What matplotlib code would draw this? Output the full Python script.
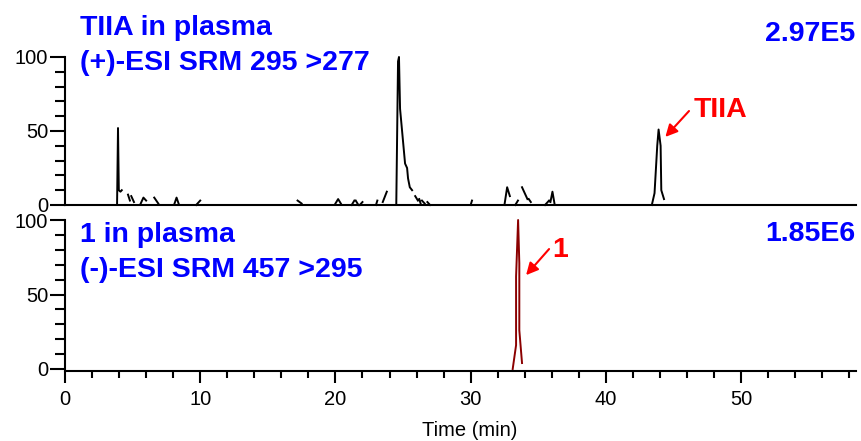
import numpy as np
import matplotlib
matplotlib.use("Agg")
import matplotlib.pyplot as plt
from matplotlib.ticker import MultipleLocator

plt.rcParams['font.family'] = ['Liberation Sans', 'DejaVu Sans']

nan = np.nan
# TIIA trace, SRM 295 > 277 (time in min, relative intensity in %), nan = gap
top_t = [3.85, 3.92, 3.98, 4.1, 4.2, nan,
         4.66, 4.8, nan, 4.9, 5.1, nan, 5.6, 5.8, 6.0, nan, 6.6, 6.9, nan,
         8.1, 8.25, 8.4, nan, 9.7, 10.0, nan, 17.2, 17.5, nan,
         20.0, 20.2, 20.4, nan, 21.2, 21.4, nan, 21.5, 21.7, nan, 21.8, 22.0, nan,
         23.0, 23.1, nan, 23.5, 23.8, nan,
         24.5, 24.63, 24.7, 24.78, 25.15, 25.3, 25.37, 25.5, 25.67, nan,
         25.9, 26.1, nan, 26.2, 26.3, nan, 26.4, 26.6, nan, 26.8, 27.0, nan,
         30.0, 30.1, nan, 32.5, 32.7, 32.9, nan, 33.3, 33.5, nan,
         33.8, 33.9, 34.2, nan, 34.3, 34.45, nan, 35.5, 35.8, nan, 35.9, 36.05, 36.2, nan,
         43.4, 43.6, 43.8, 43.9, 44.05, 44.1, 44.3]
top_y = [0, 52, 10, 9, 10, nan,
         7, 3, nan, 6, 2, nan, 1, 5, 3, nan, 5, 1, nan,
         1, 5, 1, nan, 0, 3, nan, 3, 1, nan,
         1, 4, 1, nan, 0, 3, nan, 3, 0, nan, 0, 2, nan,
         0, 3, nan, 2, 9, nan,
         0, 97, 100, 65, 28, 25, 18, 12, 10, nan,
         6, 3, nan, 4, 1, nan, 3, 1, nan, 2, 0, nan,
         0, 3, nan, 0, 12, 6, nan, 0, 3, nan,
         12, 10, 4, nan, 4, 2, nan, 0, 3, nan, 2, 9, 1, nan,
         0, 8, 40, 51, 40, 10, 4]

# compound 1 trace, SRM 457 > 295
bot_t = [33.11, 33.36, 33.36, 33.51, 33.6, 33.6, 33.8]
bot_y = [0, 16, 62, 100, 71, 26, 4]

W, H = 861, 441
fig = plt.figure(figsize=(W / 100, H / 100), dpi=100)

def px(x, y):
    return x / W, 1 - y / H

ax1 = fig.add_axes([65 / W, 1 - 205 / H, 791 / W, 148 / H])
ax2 = fig.add_axes([65 / W, 1 - 369 / H, 791 / W, 149 / H])

ax1.plot(top_t, top_y, color='black', lw=1.4, clip_on=False)
ax2.plot(bot_t, bot_y, color='#8b0000', lw=1.4, clip_on=False)

for ax in (ax1, ax2):
    ax.set_xlim(0, 58.5)
    ax.set_ylim(0, 100)
    ax.spines['top'].set_visible(False)
    ax.spines['right'].set_visible(False)
    ax.spines['left'].set_linewidth(1.5)
    ax.spines['bottom'].set_linewidth(1.5)
    ax.yaxis.set_major_locator(MultipleLocator(50))
    ax.yaxis.set_minor_locator(MultipleLocator(10))
    ax.tick_params(axis='y', which='major', length=11, width=1.5, labelsize=14.5, pad=1)
    ax.tick_params(axis='y', which='minor', length=7, width=1.5)
    ax.set_facecolor('none')

ax1.tick_params(axis='x', which='both', bottom=False, labelbottom=False)
ax2.xaxis.set_major_locator(MultipleLocator(10))
ax2.xaxis.set_minor_locator(MultipleLocator(2))
ax2.tick_params(axis='x', which='major', length=8.5, width=1.5, labelsize=14.5, pad=5)
ax2.tick_params(axis='x', which='minor', length=5, width=1.5)
ax2.spines['bottom'].set_position(('outward', 1.5))

blue = '#0000ff'
red = '#ff0000'
fs = 20.5
fig.text(*px(80, 35), 'TIIA in plasma', color=blue, fontsize=fs, fontweight='bold', va='baseline')
fig.text(*px(80, 70), '(+)-ESI SRM 295 >277', color=blue, fontsize=fs, fontweight='bold', va='baseline')
fig.text(*px(855, 41), '2.97E5', color=blue, fontsize=fs, fontweight='bold', va='baseline', ha='right')
fig.text(*px(80, 242), '1 in plasma', color=blue, fontsize=fs, fontweight='bold', va='baseline')
fig.text(*px(80, 277), '(-)-ESI SRM 457 >295', color=blue, fontsize=fs, fontweight='bold', va='baseline')
fig.text(*px(855, 241), '1.85E6', color=blue, fontsize=fs, fontweight='bold', va='baseline', ha='right')

arrow = dict(arrowstyle='-|>', color=red, lw=1.5, shrinkA=0, shrinkB=0, mutation_scale=18)
ax1.annotate('', xy=(44.4, 46), xytext=(46.15, 63.5), arrowprops=arrow)
ax1.text(46.5, 64, 'TIIA', color=red, fontsize=fs, fontweight='bold', va='center', ha='left')
ax2.annotate('', xy=(34.1, 63), xytext=(35.8, 80.5), arrowprops=arrow)
ax2.text(36.0, 80, '1', color=red, fontsize=fs, fontweight='bold', va='center', ha='left')

fig.text(*px(470, 436), 'Time (min)', fontsize=14.5, ha='center', va='baseline')

fig.savefig('out.png', dpi=100)
